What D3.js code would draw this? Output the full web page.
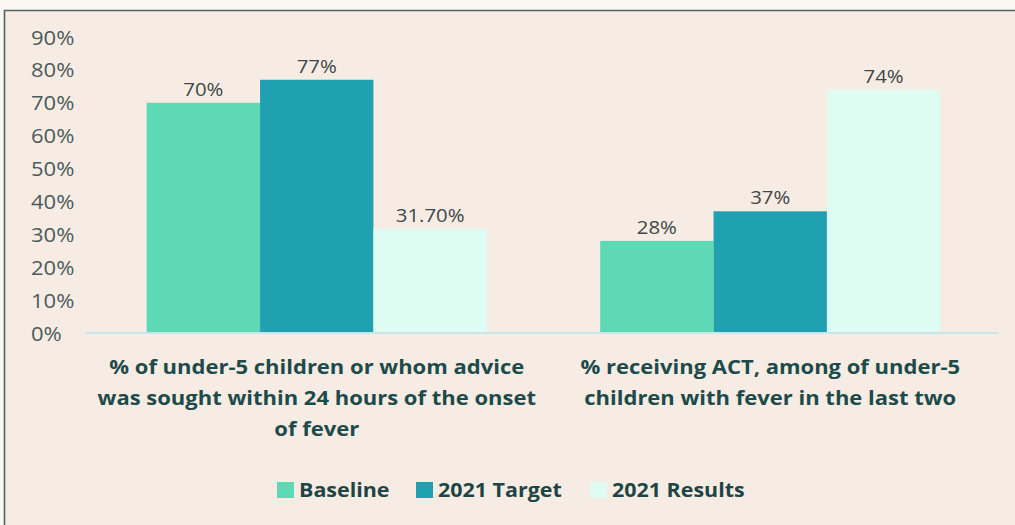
<!DOCTYPE html>
<html>
<head>
<meta charset="utf-8">
<script src="https://cdn.jsdelivr.net/npm/d3@7"></script>
<style>
  html, body { margin: 0; padding: 0; background: #fbf7f3; }
  svg { display: block; }
</style>
</head>
<body>
<svg id="chart" width="1015" height="525"></svg>
<script>
// Indicator categories (each wrapped onto several lines)
const categories = [
  ["% of under-5 children or whom advice", "was sought within 24 hours of the onset", "of fever"],
  ["% receiving ACT, among of under-5", "children with fever in the last two"]
];
const seriesNames = ["Baseline", "2021 Target", "2021 Results"];
const baselineValues = [0.70, 0.28];
const targetValues = [0.77, 0.37];
const resultsValues = [0.317, 0.74];
const valueLabels = [["70%", "28%"], ["77%", "37%"], ["31.70%", "74%"]];
const yTicks = [0, 0.1, 0.2, 0.3, 0.4, 0.5, 0.6, 0.7, 0.8, 0.9];
const colors = ["#5ed9b6", "#1fa1b1", "#dffcf2"];

const series = [baselineValues, targetValues, resultsValues];
const W = 1015, H = 525;
const STRETCH = 1.1; // text is set slightly wide
const svg = d3.select("#chart");

// draws a horizontally widened text anchored at (x, y)
function wideText(parent, x, y, str, anchor, size, weight, fill) {
  return parent.append("text")
    .attr("transform", `translate(${x},${y}) scale(${STRETCH},1)`)
    .attr("text-anchor", anchor)
    .attr("font-family", "Open Sans").attr("font-weight", weight)
    .attr("font-size", size).attr("fill", fill)
    .text(str);
}

// panel background and its top/left border
svg.append("rect").attr("x", 4).attr("y", 10).attr("width", W - 4).attr("height", H - 10)
  .attr("fill", "#f7ece3");
svg.append("path").attr("d", `M4.5,${H} V10.5 H${W}`)
  .attr("fill", "none").attr("stroke", "#506565").attr("stroke-width", 1.6);

const x0 = d3.scaleBand().domain(d3.range(categories.length)).range([90, 997])
  .paddingInner(0.25).paddingOuter(0.125);
const x1 = d3.scaleBand().domain(d3.range(seriesNames.length)).range([0, x0.bandwidth()]);
const y = d3.scaleLinear().domain([0, 0.9]).range([333, 37]);

// y tick labels (left aligned, no axis line)
const yAxis = d3.axisLeft(y).tickValues(yTicks).tickFormat(d3.format(".0%")).tickSize(0);
const yg = svg.append("g").attr("transform", "translate(31,0)").call(yAxis);
yg.select(".domain").remove();
yg.selectAll(".tick text").remove();
yg.selectAll(".tick").each(function(d) {
  wideText(d3.select(this), 0, 7, d3.format(".0%")(d), "start", 20, 400, "#4b5b5b");
});

// bars
const groups = svg.append("g").selectAll("g")
  .data(categories).join("g")
  .attr("transform", (d, i) => `translate(${x0(i)},0)`);

series.forEach((vals, s) => {
  groups.append("rect")
    .attr("x", x1(s))
    .attr("width", x1.bandwidth())
    .attr("y", (d, i) => y(vals[i]))
    .attr("height", (d, i) => y(0) - y(vals[i]))
    .attr("fill", colors[s]);
  groups.each(function(d, i) {
    wideText(d3.select(this), x1(s) + x1.bandwidth() / 2, y(vals[i]) - 7,
      valueLabels[s][i], "middle", 18.5, 400, "#3f4747");
  });
});

// x axis baseline
const xAxis = d3.axisBottom(x0).tickSize(0).tickFormat("");
const xg = svg.append("g").attr("transform", `translate(0,${y(0)})`).call(xAxis);
xg.select(".domain").attr("stroke", "#c9e6ec").attr("stroke-width", 2)
  .attr("d", `M85,0H998`);

// category labels
categories.forEach((lines, i) => {
  lines.forEach((line, j) => {
    wideText(svg, x0(i) + x0.bandwidth() / 2, 374 + j * 31, line, "middle", 20, 700, "#1d4a4a");
  });
});

// legend
const legendX = [277, 416, 590];
seriesNames.forEach((name, i) => {
  svg.append("rect").attr("x", legendX[i]).attr("y", 482)
    .attr("width", 17).attr("height", 16).attr("fill", colors[i]);
  wideText(svg, legendX[i] + 22, 497, name, "start", 19.5, 700, "#1d4545");
});
</script>
</body>
</html>
